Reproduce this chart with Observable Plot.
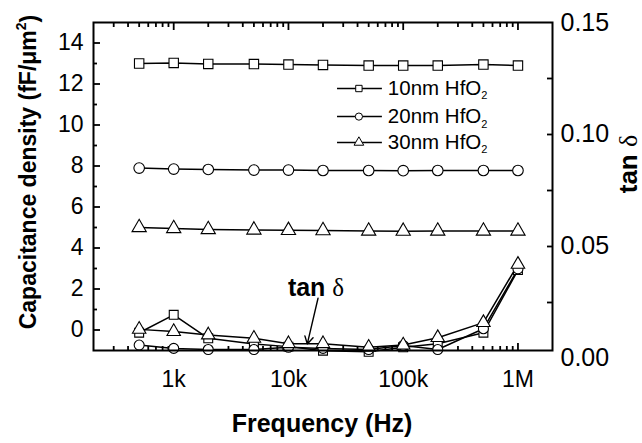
<!DOCTYPE html>
<html>
<head>
<meta charset="utf-8">
<script src="https://cdn.jsdelivr.net/npm/d3@7"></script>
<script src="https://cdn.jsdelivr.net/npm/@observablehq/plot@0.6"></script>
<style>
  html, body { margin: 0; padding: 0; background: #fff; }
  svg { font-family: "Liberation Sans", Arial, sans-serif; }
</style>
</head>
<body>
<div id="chart"></div>
<script>
// ---- data ----
const freq = [500, 1e3, 2e3, 5e3, 1e4, 2e4, 5e4, 1e5, 2e5, 5e5, 1e6];
const cap10 = [13.0, 13.03, 12.98, 12.97, 12.95, 12.93, 12.9, 12.9, 12.9, 12.95, 12.9];
const cap20 = [7.9, 7.85, 7.83, 7.8, 7.8, 7.78, 7.78, 7.77, 7.78, 7.78, 7.78];
const cap30 = [5.0, 4.95, 4.9, 4.88, 4.86, 4.85, 4.83, 4.82, 4.83, 4.83, 4.83];
const tan10 = [0.0115, 0.0195, 0.009, 0.0065, 0.0053, 0.0035, 0.003, 0.005, 0.0066, 0.0115, 0.0395];
const tan20 = [0.006, 0.0045, 0.004, 0.004, 0.005, 0.0045, 0.004, 0.0058, 0.004, 0.0133, 0.040];
const tan30 = [0.013, 0.012, 0.0105, 0.009, 0.0066, 0.0066, 0.005, 0.006, 0.0093, 0.016, 0.042];
const seriesNames = ["10nm HfO2", "20nm HfO2", "30nm HfO2"];
const symbols = ["square", "circle", "triangle"];
const leftTicks = [0, 2, 4, 6, 8, 10, 12, 14];
const leftMinor = [1, 3, 5, 7, 9, 11, 13];
const xMajor = [1e3, 1e4, 1e5, 1e6];
const xMajorLabels = ["1k", "10k", "100k", "1M"];
const rightLabels = [0, 0.05, 0.10, 0.15];
const rightTicks = [0.025, 0.05, 0.075, 0.10, 0.125];

// right (tan δ) axis maps linearly onto the left scale
const tanToLeft = t => -1.39 + t * (16.39 / 0.15);

const xMinor = [];
for (let e = 2; e <= 6; e++) for (let m = 2; m <= 9; m++) {
  const v = m * Math.pow(10, e);
  if (v > 200 && v < 2e6) xMinor.push(v);
}

const caps = [cap10, cap20, cap30];
const tans = [tan10, tan20, tan30];
const capRows = [], tanRows = [];
caps.forEach((arr, s) => arr.forEach((v, i) => capRows.push({f: freq[i], v, s: seriesNames[s], sym: symbols[s]})));
tans.forEach((arr, s) => arr.forEach((v, i) => tanRows.push({f: freq[i], v: tanToLeft(v), s: seriesNames[s], sym: symbols[s]})));

// legend layout (in data coordinates)
const legY = [11.78, 10.41, 9.15];
const legend = seriesNames.map((n, i) => ({name: n, sym: symbols[i], y: legY[i]}));
const arrowAnn = [{x1: 18.1e3, y1: 1.55, x2: 14.6e3, y2: -0.68}];

const rightMap = new Map(rightLabels.map(t => [tanToLeft(t), t.toFixed(2)]));
const xLabelMap = new Map(xMajor.map((v, i) => [v, xMajorLabels[i]]));

const common = {label: null};
const plot = Plot.plot({
  width: 642, height: 443,
  marginLeft: 93, marginRight: 90, marginTop: 22, marginBottom: 93,
  x: {type: "log", domain: [200, 2e6], label: null},
  y: {domain: [-1, 15], label: null},
  style: {fontFamily: "Liberation Sans, Arial, sans-serif", color: "black", background: "white"},
  marks: [
    // ticks (inward, via offset)
    Plot.axisY({...common, ticks: leftTicks, tickSize: 7, dx: 7, text: null, strokeWidth: 1.8}),
    Plot.axisY({...common, ticks: leftMinor, tickSize: 4, dx: 4, text: null, strokeWidth: 1.8}),
    Plot.axisY({...common, ticks: leftTicks, tickSize: 0, tickPadding: 10, fontSize: 23}),
    Plot.axisY({...common, anchor: "right", ticks: rightTicks.map(tanToLeft), tickSize: 6, dx: -6, text: null, strokeWidth: 1.8}),
    Plot.axisY({...common, anchor: "right", ticks: [...rightMap.keys()], tickFormat: d => rightMap.get(d), tickSize: 0, tickPadding: 8, fontSize: 25}),
    Plot.axisX({...common, ticks: xMajor, tickSize: 7, dy: -7, text: null, strokeWidth: 1.8}),
    Plot.axisX({...common, ticks: xMinor, tickSize: 4, dy: -4, text: null, strokeWidth: 1.8}),
    Plot.axisX({...common, anchor: "top", ticks: xMajor, tickSize: 7, dy: 7, text: null, strokeWidth: 1.8}),
    Plot.axisX({...common, anchor: "top", ticks: xMinor, tickSize: 4, dy: 4, text: null, strokeWidth: 1.8}),
    Plot.axisX({...common, ticks: xMajor, tickFormat: d => xLabelMap.get(d), tickSize: 0, tickPadding: 20, fontSize: 23}),
    // capacitance
    Plot.line(capRows, {x: "f", y: "v", z: "s", stroke: "black", strokeWidth: 1.5}),
    Plot.dot(capRows, {x: "f", y: "v", symbol: "sym", r: 5.3, stroke: "black", fill: "white", strokeWidth: 1.1}),
    // tan delta
    Plot.line(tanRows, {x: "f", y: "v", z: "s", stroke: "black", strokeWidth: 1.5}),
    Plot.dot(tanRows, {x: "f", y: "v", symbol: "sym", r: 5, stroke: "black", fill: "white", strokeWidth: 1.1}),
    // legend
    Plot.link(legend, {x1: () => 26.5e3, x2: () => 65.2e3, y1: "y", y2: "y", stroke: "black", strokeWidth: 1.5}),
    Plot.dot(legend, {x: () => 41.1e3, y: "y", symbol: "sym", r: 3.6, stroke: "black", fill: "white", strokeWidth: 1}),
    Plot.text(legend, {x: () => 73.5e3, y: "y", text: "name", textAnchor: "start", fontSize: 20.5, fill: "black"}),
    // annotation arrow
    Plot.arrow(arrowAnn, {x1: "x1", y1: "y1", x2: "x2", y2: "y2", stroke: "black", strokeWidth: 1.4, headLength: 9}),
    Plot.frame({stroke: "black", strokeWidth: 2})
  ]
});

document.getElementById("chart").appendChild(plot);
const svg = d3.select(plot);

// subscripts in legend
svg.selectAll("text").each(function() {
  const t = this.textContent;
  if (/HfO2$/.test(t)) {
    const el = d3.select(this);
    el.text(null);
    el.append("tspan").text(t.slice(0, -1));
    el.append("tspan").attr("dy", "0.4em").attr("font-size", 11).text("2");
  }
});

// axis titles
svg.append("text")
  .attr("transform", "translate(36,172) rotate(-90)")
  .attr("text-anchor", "middle").attr("font-weight", "bold").attr("font-size", 23).attr("fill", "black")
  .call(t => {
    t.append("tspan").text("Capacitance density (fF/μm");
    t.append("tspan").attr("font-size", 14).attr("dy", "-0.7em").text("2");
    t.append("tspan").attr("dy", "0.45em").text(")");
  });

svg.append("text")
  .attr("x", 322).attr("y", 432)
  .attr("text-anchor", "middle").attr("font-weight", "bold").attr("font-size", 25).attr("fill", "black")
  .text("Frequency (Hz)");

svg.append("text")
  .attr("transform", "translate(637,164) rotate(-90)")
  .attr("text-anchor", "middle").attr("font-size", 26).attr("fill", "black")
  .call(t => {
    t.append("tspan").attr("font-weight", "bold").text("tan ");
    t.append("tspan").attr("font-family", "Liberation Serif, serif").text("δ");
  });

// annotation label
svg.append("text")
  .attr("x", 316).attr("y", 296)
  .attr("text-anchor", "middle").attr("font-size", 25).attr("fill", "black")
  .call(t => {
    t.append("tspan").attr("font-weight", "bold").text("tan ");
    t.append("tspan").attr("font-family", "Liberation Serif, serif").text("δ");
  });
</script>
</body>
</html>
